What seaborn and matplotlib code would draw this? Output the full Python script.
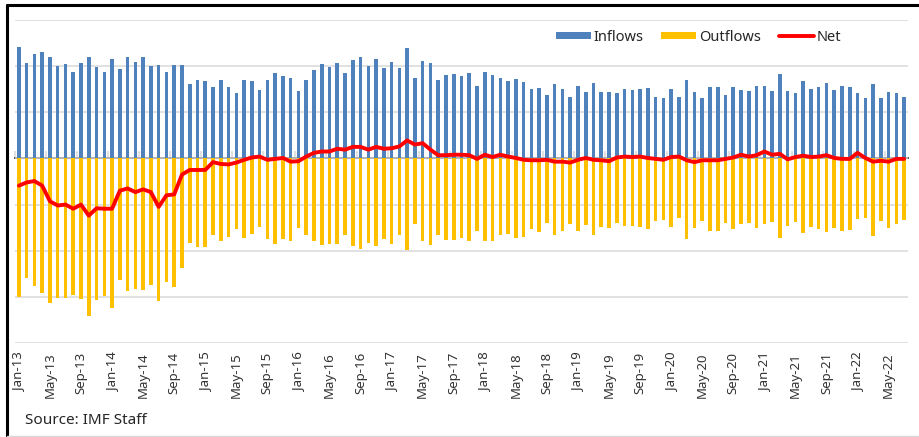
import numpy as np
import pandas as pd
import matplotlib
matplotlib.use("Agg")
import matplotlib.pyplot as plt
from matplotlib.patches import Patch
from matplotlib.lines import Line2D
import seaborn as sns

# ---------------- data ----------------
months = pd.date_range("2013-01-01", periods=115, freq="MS").strftime("%b-%y").tolist()

inflows = [
    2.41, 2.06, 2.27, 2.30, 2.19, 2.00, 2.04, 1.88, 2.06, 2.19, 1.99, 1.88, 2.15, 1.93, 2.20, 2.09,
    2.19, 2.00, 2.02, 1.88, 2.02, 2.02, 1.61, 1.69, 1.67, 1.55, 1.69, 1.54, 1.41, 1.69, 1.67, 1.49,
    1.71, 1.86, 1.78, 1.75, 1.46, 1.69,
    1.91, 2.04, 1.99, 2.06, 1.86, 2.13, 2.19, 2.00, 2.15, 1.96, 2.08, 1.95, 2.39, 1.74, 2.12, 2.06,
    1.70, 1.81, 1.83, 1.78, 1.86, 1.57, 1.88, 1.81, 1.74, 1.67, 1.72, 1.65, 1.51, 1.53, 1.37, 1.61,
    1.51, 1.33, 1.56, 1.45, 1.63, 1.45, 1.45,
    1.42, 1.50, 1.49, 1.51, 1.53, 1.33, 1.30, 1.51, 1.33, 1.70, 1.44, 1.31, 1.55, 1.55, 1.38, 1.55,
    1.49, 1.46, 1.57, 1.57, 1.46, 1.83, 1.46, 1.42, 1.68, 1.51, 1.55, 1.64, 1.49, 1.57, 1.54, 1.42,
    1.31, 1.62, 1.31, 1.44, 1.41, 1.33,
]

outflows = [
    -3.01, -2.59, -2.76, -2.91, -3.14, -3.02, -3.02, -2.96, -3.05, -3.41, -3.07, -2.98, -3.25, -2.64,
    -2.87, -2.83, -2.86, -2.75, -3.09, -2.67, -2.78, -2.38, -1.83, -1.91, -1.91, -1.65, -1.80, -1.70,
    -1.53, -1.73, -1.64, -1.48, -1.75, -1.86, -1.75, -1.80, -1.51, -1.67,
    -1.80, -1.88, -1.85, -1.86, -1.65, -1.90, -1.96, -1.83, -1.90, -1.75, -1.86, -1.67, -1.99, -1.43,
    -1.78, -1.88, -1.65, -1.77, -1.77, -1.72, -1.78, -1.58, -1.78, -1.80, -1.67, -1.64, -1.73, -1.70,
    -1.54, -1.60, -1.41, -1.67, -1.58, -1.43, -1.58, -1.45, -1.67, -1.49, -1.51,
    -1.41, -1.47, -1.47, -1.49, -1.53, -1.36, -1.34, -1.49, -1.30, -1.75, -1.51, -1.36, -1.58, -1.58,
    -1.39, -1.54, -1.43, -1.41, -1.51, -1.43, -1.38, -1.73, -1.47, -1.38, -1.62, -1.49, -1.53, -1.60,
    -1.51, -1.58, -1.55, -1.32, -1.30, -1.69, -1.36, -1.51, -1.43, -1.34,
]

net = [
    -0.59, -0.52, -0.49, -0.59, -0.93, -1.02, -1.00, -1.09, -1.00, -1.24, -1.08, -1.09, -1.09, -0.70,
    -0.65, -0.73, -0.67, -0.73, -1.05, -0.80, -0.78, -0.35, -0.25, -0.25, -0.25, -0.08, -0.12, -0.13,
    -0.09, -0.03, 0.02, 0.04, -0.03, -0.01, 0.01, -0.07, -0.06, 0.04,
    0.12, 0.15, 0.15, 0.21, 0.19, 0.25, 0.25, 0.19, 0.25, 0.21, 0.22, 0.26, 0.39, 0.30, 0.33, 0.19,
    0.07, 0.07, 0.08, 0.08, 0.07, -0.01, 0.08, 0.03, 0.08, 0.04, 0.01, -0.03, -0.04, -0.04, -0.03,
    -0.07, -0.07, -0.09, -0.03, 0.01, -0.03, -0.04, -0.06,
    0.02, 0.04, 0.03, 0.04, 0.01, -0.01, -0.03, 0.03, 0.04, -0.04, -0.08, -0.04, -0.04, -0.04, -0.01,
    0.02, 0.08, 0.04, 0.07, 0.15, 0.08, 0.10, -0.02, 0.03, 0.06, 0.03, 0.04, 0.07, 0.01, -0.01, -0.01,
    0.12, 0.01, -0.07, -0.05, -0.07, -0.01, -0.01,
]

# ---------------- style ----------------
sns.set_theme(style="white")
plt.rcParams["font.family"] = ["Noto Sans", "DejaVu Sans"]

blue = "#4F81BD"
yellow = "#FFC000"
red = "#FF0000"
grid_c = "#D9D9D9"

n = len(months)
pos = np.arange(n)
bars_df = pd.DataFrame({
    "pos": np.concatenate([pos, pos]),
    "value": inflows + outflows,
    "series": ["Inflows"] * n + ["Outflows"] * n,
})

fig = plt.figure(figsize=(9.2, 4.37), dpi=100)
ax = fig.add_axes([15 / 920, 1 - 343 / 437, 893 / 920, 323 / 437])

sns.barplot(data=bars_df, x="pos", y="value", hue="series", native_scale=True,
            palette={"Inflows": blue, "Outflows": yellow}, dodge=False, width=0.46,
            saturation=1, linewidth=0, errorbar=None, legend=False, ax=ax, zorder=2)
sns.lineplot(x=pos, y=net, color=red, linewidth=2.8, ax=ax, zorder=4)

ax.set_xlim(-0.5, n - 0.5)
ax.set_ylim(-4, 3)
ax.set_yticks(range(-4, 4))
ax.set_yticklabels([])
ax.tick_params(axis="y", length=0)
ax.grid(axis="y", color=grid_c, linewidth=1.1)
ax.grid(axis="x", visible=False)
ax.set_axisbelow(True)
for s in ax.spines.values():
    s.set_visible(False)
ax.set_xlabel("")
ax.set_ylabel("")

ax.set_xticks(pos[::4])
ax.set_xticklabels(months[::4], rotation=90, fontsize=9.5, color="#333333")
ax.tick_params(axis="x", length=0, pad=6.5)

# zero axis line with category tick marks
zero = ax.secondary_xaxis(4 / 7)
zero.set_xticks(np.arange(-0.5, n, 4))
zero.set_xticklabels([])
zero.tick_params(axis="x", length=5, width=1.1, color=grid_c, direction="out")
zero.spines["bottom"].set_color(grid_c)
zero.spines["bottom"].set_linewidth(1.1)

handles = [
    Patch(facecolor=blue, edgecolor="none", label="Inflows"),
    Patch(facecolor=yellow, edgecolor="none", label="Outflows"),
    Line2D([], [], color=red, linewidth=2.8, label="Net"),
]
ax.legend(handles=handles, loc="center right", bbox_to_anchor=(0.94, 0.947), ncol=3,
          frameon=False, fontsize=10.5, handlelength=2.4, handleheight=0.45,
          handletextpad=0.2, columnspacing=1.2, labelcolor="#262626")

fig.text(25 / 920, 1 - 424 / 437, "Source: IMF Staff", fontsize=11, color="#262626", va="baseline")

# outer frame of the exhibit
fig.add_artist(Line2D([7 / 920, 7 / 920], [0, 1 - 4.5 / 437], color="black", linewidth=2.2))
fig.add_artist(Line2D([7 / 920, 1], [1 - 4.5 / 437, 1 - 4.5 / 437], color="black", linewidth=2.2))
fig.add_artist(Line2D([7 / 920, 1], [1 / 437, 1 / 437], color=grid_c, linewidth=1))

fig.savefig("out.png", dpi=100)
